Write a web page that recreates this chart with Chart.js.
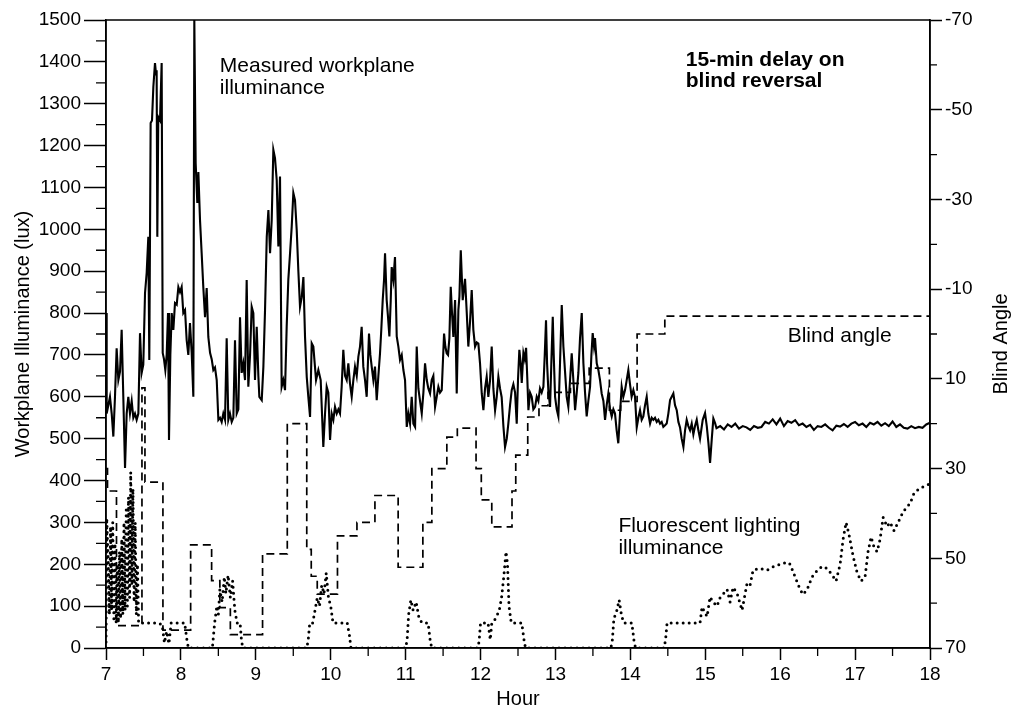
<!DOCTYPE html>
<html>
<head>
<meta charset="utf-8">
<title>Workplane illuminance and blind angle</title>
<script src="https://cdn.jsdelivr.net/npm/chart.js@4.4.1/dist/chart.umd.min.js"></script>
<style>
  html, body { margin: 0; padding: 0; background: #fff; }
  #wrap { width: 1018px; height: 713px; }
</style>
</head>
<body>
<div id="wrap"><canvas id="chart" width="1018" height="713"></canvas></div>
<script>
// Measured workplane illuminance (lux)
const luxHours = [
  7.000, 7.009, 7.031, 7.053, 7.076, 7.098, 7.120, 7.142, 7.165, 7.187, 7.209, 7.231, 7.254, 7.276, 7.298, 7.320,
  7.343, 7.365, 7.387, 7.409, 7.432, 7.454, 7.476, 7.498, 7.521, 7.543, 7.565, 7.578, 7.596, 7.614, 7.632, 7.654,
  7.668, 7.676, 7.685, 7.698, 7.721, 7.743, 7.757, 7.774, 7.792, 7.810, 7.828, 7.841, 7.859, 7.877, 7.899, 7.921,
  7.944, 7.966, 7.988, 8.010, 8.032, 8.055, 8.077, 8.099, 8.121, 8.144, 8.166, 8.179, 8.197, 8.219, 8.233, 8.255,
  8.277, 8.299, 8.322, 8.344, 8.366, 8.389, 8.411, 8.433, 8.455, 8.478, 8.500, 8.522, 8.544, 8.566, 8.589, 8.611,
  8.633, 8.655, 8.678, 8.700, 8.722, 8.745, 8.767, 8.789, 8.811, 8.833, 8.856, 8.878, 8.900, 8.923, 8.945, 8.967,
  8.989, 9.012, 9.034, 9.047, 9.079, 9.101, 9.123, 9.146, 9.168, 9.190, 9.212, 9.234, 9.256, 9.279, 9.301, 9.323,
  9.345, 9.367, 9.390, 9.412, 9.434, 9.457, 9.479, 9.501, 9.523, 9.546, 9.568, 9.590, 9.613, 9.635, 9.657, 9.680,
  9.701, 9.724, 9.746, 9.768, 9.804, 9.835, 9.866, 9.901, 9.924, 9.946, 9.968, 9.991, 10.013, 10.035, 10.057, 10.080,
  10.102, 10.124, 10.146, 10.168, 10.191, 10.213, 10.235, 10.258, 10.280, 10.302, 10.324, 10.347, 10.369, 10.391, 10.413, 10.435,
  10.458, 10.480, 10.511, 10.529, 10.547, 10.569, 10.591, 10.614, 10.636, 10.658, 10.675, 10.694, 10.712, 10.725, 10.747, 10.765,
  10.783, 10.801, 10.814, 10.836, 10.858, 10.881, 10.903, 10.925, 10.948, 10.970, 10.992, 11.015, 11.036, 11.059, 11.081, 11.103,
  11.126, 11.148, 11.170, 11.192, 11.215, 11.237, 11.259, 11.282, 11.303, 11.326, 11.348, 11.370, 11.393, 11.415, 11.437, 11.459,
  11.482, 11.513, 11.530, 11.548, 11.566, 11.584, 11.602, 11.619, 11.637, 11.660, 11.682, 11.704, 11.718, 11.736, 11.762, 11.780,
  11.793, 11.816, 11.837, 11.860, 11.882, 11.904, 11.927, 11.949, 11.971, 11.993, 12.016, 12.038, 12.060, 12.082, 12.104, 12.127,
  12.149, 12.171, 12.194, 12.216, 12.238, 12.260, 12.282, 12.305, 12.327, 12.350, 12.371, 12.394, 12.416, 12.438, 12.461, 12.483,
  12.500, 12.518, 12.536, 12.550, 12.572, 12.590, 12.608, 12.625, 12.639, 12.661, 12.683, 12.705, 12.728, 12.750, 12.772, 12.794,
  12.816, 12.839, 12.857, 12.874, 12.888, 12.905, 12.928, 12.945, 12.964, 12.977, 12.995, 13.017, 13.039, 13.061, 13.084, 13.106,
  13.128, 13.150, 13.172, 13.195, 13.217, 13.239, 13.262, 13.284, 13.306, 13.328, 13.351, 13.373, 13.395, 13.417, 13.439, 13.462,
  13.480, 13.497, 13.515, 13.528, 13.551, 13.573, 13.595, 13.617, 13.640, 13.662, 13.684, 13.706, 13.729, 13.751, 13.773, 13.795,
  13.817, 13.839, 13.862, 13.884, 13.906, 13.929, 13.951, 13.973, 13.995, 14.017, 14.040, 14.062, 14.085, 14.107, 14.129, 14.151,
  14.173, 14.196, 14.218, 14.240, 14.263, 14.285, 14.307, 14.329, 14.352, 14.374, 14.396, 14.418, 14.440, 14.463, 14.485, 14.507,
  14.530, 14.552, 14.574, 14.596, 14.619, 14.641, 14.663, 14.685, 14.708, 14.730, 14.752, 14.774, 14.797, 14.819, 14.841, 14.863,
  14.886, 14.908, 14.930, 14.966, 14.997, 15.020, 15.042, 15.064, 15.087, 15.108, 15.131, 15.150, 15.200, 15.250, 15.300, 15.350,
  15.400, 15.450, 15.500, 15.550, 15.600, 15.650, 15.700, 15.750, 15.800, 15.850, 15.900, 15.950, 16.000, 16.050, 16.100, 16.150,
  16.200, 16.250, 16.300, 16.350, 16.400, 16.450, 16.500, 16.550, 16.600, 16.650, 16.700, 16.750, 16.800, 16.850, 16.900, 16.950,
  17.000, 17.050, 17.100, 17.150, 17.200, 17.250, 17.300, 17.350, 17.400, 17.450, 17.500, 17.550, 17.600, 17.650, 17.700, 17.750,
  17.800, 17.850, 17.900, 17.950, 18.000
];
const luxValues = [
  800, 560, 580, 600, 560, 505, 600, 716, 640, 660, 760, 600, 430, 560, 600, 560,
  590, 550, 560, 545, 560, 752, 657, 677, 848, 896, 982, 688, 1254, 1260, 1340, 1397,
  1370, 1380, 982, 1268, 1260, 1397, 705, 690, 664, 700, 800, 497, 700, 800, 760, 824,
  820, 862, 850, 862, 800, 807, 735, 700, 776, 705, 600, 1500, 1158, 1063, 1137, 1022,
  943, 862, 790, 860, 743, 705, 690, 664, 670, 640, 545, 550, 540, 560, 545, 740,
  545, 560, 540, 550, 735, 560, 570, 790, 657, 680, 640, 879, 624, 700, 815, 800,
  640, 767, 650, 600, 592, 672, 807, 982, 1046, 943, 1022, 1190, 1170, 1118, 959, 1126,
  624, 640, 616, 767, 880, 943, 1006, 1087, 1070, 998, 900, 815, 838, 886, 743, 647,
  600, 552, 728, 720, 640, 664, 640, 480, 560, 624, 610, 497, 560, 545, 576, 560,
  570, 560, 624, 712, 650, 640, 680, 630, 600, 640, 672, 650, 696, 720, 767, 672,
  640, 600, 751, 700, 672, 640, 672, 592, 650, 704, 760, 831, 880, 943, 831, 790,
  744, 830, 910, 880, 934, 744, 720, 688, 700, 664, 640, 528, 560, 536, 600, 536,
  528, 720, 620, 590, 560, 610, 680, 640, 620, 608, 640, 650, 576, 600, 624, 610,
  616, 751, 720, 704, 700, 740, 863, 800, 743, 831, 608, 807, 840, 950, 831, 860,
  882, 800, 720, 780, 855, 760, 720, 730, 727, 680, 608, 568, 620, 648, 600, 640,
  720, 620, 568, 600, 648, 620, 599, 530, 480, 500, 536, 580, 616, 630, 610, 536,
  640, 712, 680, 633, 705, 690, 717, 640, 568, 610, 600, 570, 576, 600, 590, 620,
  610, 624, 700, 783, 680, 616, 576, 680, 791, 700, 600, 570, 553, 680, 819, 720,
  660, 600, 576, 640, 704, 640, 568, 610, 657, 740, 800, 680, 610, 553, 590, 624,
  700, 752, 720, 740, 680, 664, 640, 608, 590, 545, 580, 608, 570, 553, 570, 560,
  520, 489, 560, 624, 600, 616, 640, 664, 630, 600, 616, 600, 527, 550, 568, 545,
  553, 580, 600, 560, 536, 550, 545, 550, 540, 545, 536, 540, 528, 532, 536, 560,
  592, 600, 608, 580, 568, 540, 527, 500, 480, 520, 545, 530, 520, 536, 510, 530,
  545, 520, 500, 545, 561, 530, 490, 442, 500, 548, 537, 525, 530, 522, 534, 528,
  536, 524, 530, 527, 521, 530, 526, 528, 540, 536, 546, 534, 548, 530, 542, 538,
  544, 532, 536, 528, 533, 521, 530, 528, 534, 526, 520, 531, 529, 535, 528, 536,
  540, 532, 536, 528, 538, 534, 540, 531, 537, 530, 541, 528, 534, 526, 524, 530,
  525, 528, 526, 534, 538
];

// Blind angle (degrees, right axis); each value holds until the next hour
const blindHours = [
  7.00, 7.02, 7.14, 7.48, 7.52, 7.76, 8.13, 8.41, 8.52, 8.66, 9.09, 9.42, 9.68, 9.74, 9.82, 10.09,
  10.35, 10.59, 10.90, 11.23, 11.35, 11.55, 11.69, 11.94, 12.01, 12.15, 12.42, 12.47, 12.63, 12.78, 12.90, 13.20,
  13.45, 13.72, 13.87, 14.09, 14.46, 18.00
];
const blindAngles = [
  30, 35, 65, 12, 33, 66, 47, 55, 61, 67, 49, 20, 48, 54, 58, 45,
  42, 36, 52, 42, 30, 23, 21, 30, 37, 43, 35, 27, 18.5, 16, 13, 11,
  7.6, 17, 15, 0, -4, -4
];

// Fluorescent lighting illuminance (lux)
const fluorHours = [
  7.000, 7.010, 7.030, 7.045, 7.060, 7.075, 7.090, 7.105, 7.120, 7.135, 7.150, 7.165, 7.180, 7.195, 7.210, 7.225,
  7.240, 7.255, 7.270, 7.285, 7.300, 7.315, 7.330, 7.345, 7.360, 7.375, 7.390, 7.405, 7.420, 7.435, 7.700, 7.750,
  7.780, 7.810, 7.840, 7.870, 8.050, 8.080, 8.100, 8.420, 8.450, 8.480, 8.500, 8.520, 8.550, 8.580, 8.600, 8.630,
  8.660, 8.690, 8.720, 8.750, 8.790, 8.810, 8.830, 9.680, 9.700, 9.720, 9.760, 9.790, 9.820, 9.850, 9.880, 9.910,
  9.940, 9.970, 10.000, 10.030, 10.220, 10.250, 10.270, 11.000, 11.020, 11.040, 11.070, 11.100, 11.140, 11.180, 11.220, 11.300,
  11.330, 11.350, 11.960, 11.980, 12.000, 12.100, 12.130, 12.150, 12.200, 12.250, 12.280, 12.310, 12.340, 12.360, 12.380, 12.410,
  12.550, 12.580, 12.600, 13.740, 13.760, 13.780, 13.820, 13.850, 13.880, 13.910, 14.020, 14.050, 14.070, 14.450, 14.470, 14.490,
  14.930, 14.957, 15.024, 15.064, 15.104, 15.157, 15.197, 15.291, 15.331, 15.371, 15.424, 15.491, 15.558, 15.598, 15.638, 15.732,
  15.825, 15.905, 15.999, 16.093, 16.132, 16.199, 16.266, 16.306, 16.360, 16.426, 16.493, 16.560, 16.626, 16.693, 16.746, 16.800,
  16.840, 16.880, 16.920, 16.973, 17.027, 17.080, 17.133, 17.173, 17.214, 17.254, 17.294, 17.334, 17.374, 17.427, 17.467, 17.520,
  17.574, 17.627, 17.680, 17.734, 17.787, 17.854, 17.908, 17.975, 18.000
];
const fluorValues = [
  0, 310, 200, 80, 290, 90, 300, 70, 250, 60, 200, 60, 230, 70, 260, 80,
  300, 90, 330, 100, 360, 120, 420, 150, 380, 110, 300, 80, 200, 60, 60, 55,
  12, 40, 10, 60, 60, 20, 0, 0, 60, 100, 80, 140, 110, 170, 130, 174,
  120, 160, 90, 60, 60, 15, 0, 0, 20, 60, 60, 90, 120, 100, 150, 130,
  179, 120, 100, 60, 60, 30, 0, 0, 20, 80, 115, 90, 110, 70, 60, 60,
  15, 0, 0, 15, 60, 60, 20, 60, 70, 90, 120, 170, 230, 200, 100, 60,
  60, 20, 0, 0, 20, 70, 90, 115, 80, 60, 60, 15, 0, 0, 20, 60,
  60, 98, 75, 122, 110, 100, 120, 140, 110, 145, 131, 90, 155, 150, 186, 190,
  186, 194, 200, 205, 200, 170, 140, 128, 140, 170, 185, 195, 190, 175, 160, 200,
  260, 300, 270, 220, 180, 160, 170, 230, 265, 240, 230, 260, 312, 290, 300, 280,
  300, 320, 335, 345, 370, 380, 385, 390, 394
];

// Axis ticks
const hourTicks = [7, 8, 9, 10, 11, 12, 13, 14, 15, 16, 17, 18];
const luxTicks = [0, 100, 200, 300, 400, 500, 600, 700, 800, 900, 1000, 1100, 1200, 1300, 1400, 1500];
const angleTicks = [-70, -50, -30, -10, 10, 30, 50, 70];
const hourMinor = [7.5, 8.5, 9.5, 10.5, 11.5, 12.5, 13.5, 14.5, 15.5, 16.5, 17.5];
const luxMinor = [50, 150, 250, 350, 450, 550, 650, 750, 850, 950, 1050, 1150, 1250, 1350, 1450];
const angleMinor = [-60, -40, -20, 0, 20, 40, 60];

const FONT = "'Liberation Sans', Arial, Helvetica, sans-serif";

const toPoints = (xs, ys) => xs.map((x, i) => ({ x: x, y: ys[i] }));

// frame, minor ticks, right-hand title and the in-plot notes
const extras = {
  id: 'extras',
  afterDraw(chart) {
    const { ctx, chartArea: a, scales } = chart;
    ctx.save();
    ctx.strokeStyle = '#000';
    ctx.lineWidth = 1.5;
    ctx.strokeRect(a.left, a.top, a.right - a.left, a.bottom - a.top);

    ctx.lineWidth = 1.3;
    ctx.beginPath();
    hourMinor.forEach(h => {
      const x = scales.x.getPixelForValue(h);
      ctx.moveTo(x, a.bottom); ctx.lineTo(x, a.bottom + 8);
    });
    luxMinor.forEach(v => {
      const y = scales.y.getPixelForValue(v);
      ctx.moveTo(a.left, y); ctx.lineTo(a.left - 10, y);
    });
    angleMinor.forEach(v => {
      const y = scales.y2.getPixelForValue(v);
      ctx.moveTo(a.right, y); ctx.lineTo(a.right + 7, y);
    });
    ctx.stroke();

    ctx.fillStyle = '#000';
    ctx.textBaseline = 'middle';

    // right axis title, reading bottom to top like the left one
    ctx.save();
    ctx.translate(1001, (a.top + a.bottom) / 2 + 10);
    ctx.rotate(-Math.PI / 2);
    ctx.textAlign = 'center';
    ctx.font = '20px ' + FONT;
    ctx.fillText('Blind Angle', 0, 0);
    ctx.restore();

    ctx.textAlign = 'left';
    const note = (text, h, lux, bold) => {
      ctx.font = (bold ? 'bold ' : '') + '21px ' + FONT;
      ctx.fillText(text, scales.x.getPixelForValue(h), scales.y.getPixelForValue(lux));
    };
    note('Measured workplane', 8.52, 1390);
    note('illuminance', 8.52, 1337);
    note('15-min delay on', 14.74, 1404, true);
    note('blind reversal', 14.74, 1354, true);
    note('Blind angle', 16.1, 745);
    note('Fluorescent lighting', 13.84, 292);
    note('illuminance', 13.84, 238);
    ctx.restore();
  }
};

const tickFont = { family: FONT, size: 19 };

new Chart(document.getElementById('chart'), {
  type: 'line',
  data: {
    datasets: [
      {
        label: 'Measured workplane illuminance',
        data: toPoints(luxHours, luxValues),
        yAxisID: 'y',
        borderColor: '#000',
        borderWidth: 2.1,
        pointRadius: 0,
        tension: 0
      },
      {
        label: 'Blind angle',
        data: toPoints(blindHours, blindAngles),
        yAxisID: 'y2',
        stepped: true,
        borderColor: '#000',
        borderWidth: 1.7,
        borderDash: [8, 5],
        pointRadius: 0
      },
      {
        label: 'Fluorescent lighting illuminance',
        data: toPoints(fluorHours, fluorValues),
        yAxisID: 'y',
        borderColor: '#000',
        borderWidth: 3,
        borderDash: [0, 6],
        borderCapStyle: 'round',
        pointRadius: 0,
        tension: 0
      }
    ]
  },
  options: {
    responsive: false,
    animation: false,
    layout: { padding: { top: 20, left: 0, right: 0, bottom: 0 } },
    plugins: {
      legend: { display: false },
      tooltip: { enabled: false }
    },
    scales: {
      x: {
        type: 'linear',
        position: 'bottom',
        min: 7,
        max: 18,
        afterBuildTicks: s => { s.ticks = hourTicks.map(v => ({ value: v })); },
        afterFit: s => { s.height = 65; },
        grid: { drawOnChartArea: false, drawTicks: true, tickLength: 12, tickColor: '#000', tickWidth: 1.5 },
        border: { display: true, color: '#000', width: 1.5 },
        ticks: { font: tickFont, color: '#000', padding: 3, maxRotation: 0, callback: v => String(v) },
        title: { display: true, text: 'Hour', font: { family: FONT, size: 20 }, color: '#000', padding: { top: 0, bottom: 2 } }
      },
      y: {
        type: 'linear',
        position: 'left',
        min: 0,
        max: 1500,
        afterBuildTicks: s => { s.ticks = luxTicks.map(v => ({ value: v })); },
        afterFit: s => { s.width = 106; },
        grid: { drawOnChartArea: false, drawTicks: true, tickLength: 22, tickColor: '#000', tickWidth: 1.5 },
        border: { display: true, color: '#000', width: 1.5 },
        ticks: { font: tickFont, color: '#000', padding: 3, callback: v => String(v) },
        title: { display: true, text: 'Workplane Illuminance (lux)', font: { family: FONT, size: 20 }, color: '#000', padding: { top: 11, bottom: 0 } }
      },
      y2: {
        type: 'linear',
        position: 'right',
        min: -70,
        max: 70,
        reverse: true,
        afterBuildTicks: s => { s.ticks = angleTicks.map(v => ({ value: v })); },
        afterFit: s => { s.width = 88; },
        grid: { drawOnChartArea: false, drawTicks: true, tickLength: 12, tickColor: '#000', tickWidth: 1.5 },
        border: { display: true, color: '#000', width: 1.5 },
        ticks: { font: tickFont, color: '#000', padding: 3, callback: v => String(v) }
      }
    }
  },
  plugins: [extras]
});
</script>
</body>
</html>
